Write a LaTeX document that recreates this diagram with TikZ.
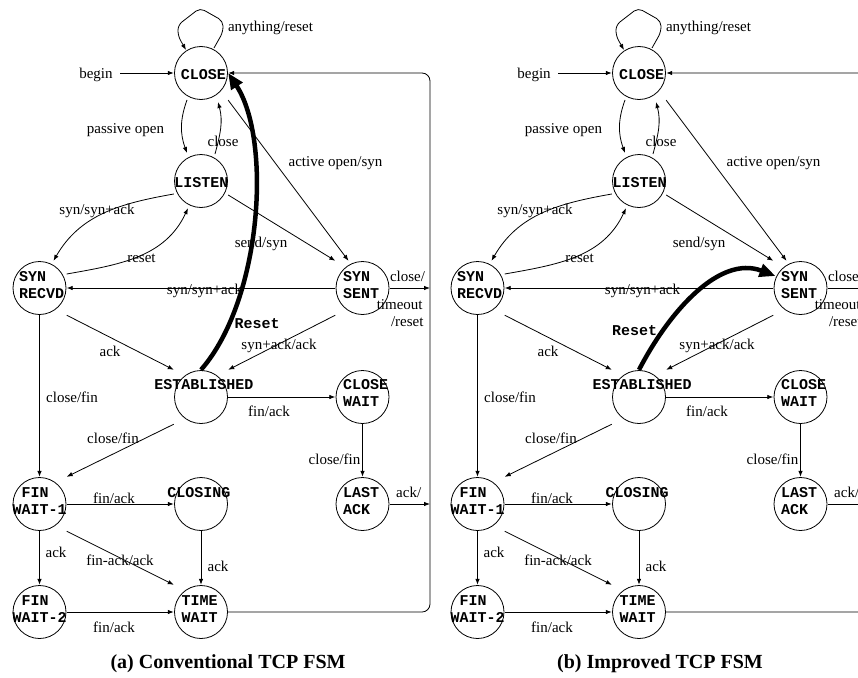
\documentclass[tikz,border=0pt]{standalone}
\usepackage{fontspec}
\setmainfont{Liberation Serif}
\newfontfamily\monofont{Liberation Mono}
\usetikzlibrary{arrows.meta,calc}

\tikzset{
  stbox/.style={rectangle, minimum size=54pt, inner sep=0pt,
    path picture={\draw[line width=0.8pt] (path picture bounding box.center) circle[radius=26.5pt];}},
  sttext/.style={inner sep=0pt, font=\monofont\bfseries\fontsize{15}{17}\selectfont, align=left},
  lbl/.style={inner sep=0pt, font=\fontsize{15}{17}\selectfont, text height=10pt, text depth=3pt},
  edge/.style={line width=0.8pt, -{Latex[length=6pt,width=4.5pt]}},
  thickarr/.style={line width=4.5pt, -{Triangle[length=16pt,width=13pt]}},
  captxt/.style={inner sep=0pt, font=\bfseries\fontsize{20}{24}\selectfont},
}

% One TCP state machine; the thick reset arrow is added per copy
\newcommand\fsmdiagram{%
  % states
  \node[stbox] (cl) at (201,73) {};
  \node[stbox] (li) at (201,181) {};
  \node[stbox] (sr) at (39.5,288) {};
  \node[stbox] (ss) at (362.5,288) {};
  \node[stbox] (es) at (201,397) {};
  \node[stbox] (cw) at (362.5,397) {};
  \node[stbox] (f1) at (39.5,504) {};
  \node[stbox] (cg) at (201,504) {};
  \node[stbox] (la) at (362.5,504) {};
  \node[stbox] (f2) at (39.5,612) {};
  \node[stbox] (tw) at (201,612) {};
  % state names
  \node[sttext] (cl-t) at (203.5,75) {CLOSE};
  \node[sttext] (li-t) at (201.5,182.5) {LISTEN};
  \node[sttext, anchor=west] (sr-t) at (19,285.5) {SYN\\RECVD};
  \node[sttext, anchor=west] (ss-t) at (343,285.5) {SYN\\SENT};
  \node[sttext] (es-t) at (204,385) {ESTABLISHED};
  \node[sttext, anchor=west] (cw-t) at (343,393) {CLOSE\\WAIT};
  \node[sttext, anchor=west] (f1-t) at (12.5,501.5) {\phantom{W}FIN\\WAIT-1};
  \node[sttext] (cg-t) at (199,492.5) {CLOSING};
  \node[sttext, anchor=west] (la-t) at (343,501.5) {LAST\\ACK};
  \node[sttext, anchor=west] (f2-t) at (12.5,609.5) {\phantom{W}FIN\\WAIT-2};
  \node[sttext, anchor=west] (tw-t) at (181.5,609.5) {TIME\\WAIT};
  % free ends on the return line
  \coordinate (bg) at (120,73);
  \coordinate (rt) at (430,73);
  \coordinate (rs) at (430,288);
  \coordinate (rl) at (430,504);
  \coordinate (rb) at (430,612);
  % transitions
  \draw[edge, rounded corners=5pt] ($(cl.center)+(13,-25)$) -- ($(cl.center)+(22,-41)$)
    -- ($(cl.center)+(22,-52)$) -- ($(cl.center)+(-1,-65)$) -- ($(cl.center)+(-23,-48)$)
    -- ($(cl.center)+(-23,-37)$) -- ($(cl.center)+(-15,-23)$);
  \draw[edge] (bg) -- (cl);
  \draw[edge] ($(cl.center)+(-14,27)$) to[out=250,in=110] ($(li.center)+(-14,-28)$);
  \draw[edge] ($(li.center)+(14,-27)$) to[out=75,in=285] ($(cl.center)+(17,29)$);
  \draw[edge] (cl.south east) -- ($(ss.north)+(-14,0)$);
  \draw[edge] ($(li.east)+(0,14)$) -- (ss.north west);
  \draw[edge] ($(li.west)+(0,13)$) to[out=190,in=60] ($(sr.north)+(14,0)$);
  \draw[edge] ($(sr.east)+(0,-14)$) to[out=10,in=245] ($(li.south)+(-13,0)$);
  \draw[edge] (ss) -- (sr);
  \draw[edge] (ss) -- (rs);
  \draw[edge] (sr.south east) -- (es.north west);
  \draw[edge] (ss.south west) -- (es.north east);
  \draw[edge] (es) -- (cw);
  \draw[edge] (es.south west) -- (f1.north east);
  \draw[edge] (sr) -- (f1);
  \draw[edge] (cw) -- (la);
  \draw[edge] (f1) -- (cg);
  \draw[edge] (f1.south east) -- (tw.north west);
  \draw[edge] (f1) -- (f2);
  \draw[edge] (cg) -- (tw);
  \draw[edge] (f2) -- (tw);
  \draw[edge] (la) -- (rl);
  \draw[edge, rounded corners=8pt] (tw) -- (rb) -- (rt) -- (cl);
  % transition labels
  \node[lbl] (t-any) at (270.5,28) {anything/reset};
  \node[lbl] (t-begin) at (96,75) {begin};
  \node[lbl] (t-po) at (125.5,130) {passive open};
  \node[lbl] (t-close) at (223,143) {close};
  \node[lbl] (t-aos) at (335.5,163) {active open/syn};
  \node[lbl] (t-ssa1) at (97,210.5) {syn/syn+ack};
  \node[lbl] (t-send) at (261,244) {send/syn};
  \node[lbl] (t-rst) at (141.5,259) {reset};
  \node[lbl] (t-ssa2) at (204.5,291) {syn/syn+ack};
  \node[lbl] (t-cl1) at (407.5,278) {close/};
  \node[lbl] (t-to) at (399.7,306) {timeout};
  \node[lbl] (t-rs2) at (407.3,323) {/reset};
  \node[lbl] (t-saa) at (279,346) {syn+ack/ack};
  \node[lbl] (t-ack1) at (110,353) {ack};
  \node[lbl] (t-cf1) at (72,399) {close/fin};
  \node[lbl] (t-fa1) at (269,413) {fin/ack};
  \node[lbl] (t-cf2) at (113,440) {close/fin};
  \node[lbl] (t-cf3) at (334.5,461) {close/fin};
  \node[lbl] (t-ack5) at (408.7,494) {ack/};
  \node[lbl] (t-fa2) at (114,500) {fin/ack};
  \node[lbl] (t-ack2) at (56,554) {ack};
  \node[lbl] (t-faa) at (120,562) {fin-ack/ack};
  \node[lbl] (t-ack3) at (218,568) {ack};
  \node[lbl] (t-fa3) at (114,629) {fin/ack};
}

\begin{document}
\begin{tikzpicture}[x=1pt,y=-1pt]
  \useasboundingbox (0,0) rectangle (858,677);
  \clip (0,0) rectangle (858,677);
  % conventional machine
  \begin{scope}[name prefix=L-]
    \fsmdiagram
    \draw[thickarr] (es.north) .. controls (262,300) and (272,140) .. (cl.east);
    \node[sttext] (t-reset) at (257,324) {Reset};
    \node[captxt] (cap) at (228,664) {(a) Conventional TCP FSM};
  \end{scope}
  % improved machine
  \begin{scope}[xshift=438pt, name prefix=R-]
    \fsmdiagram
    \draw[thickarr] (es.north) .. controls (232,310) and (282,255) .. ($(ss.center)+(-25,-12)$);
    \node[sttext] (t-reset) at (196.7,330.7) {Reset};
    \node[captxt] (cap) at (222,664) {(b) Improved TCP FSM};
  \end{scope}
\end{tikzpicture}
\end{document}
